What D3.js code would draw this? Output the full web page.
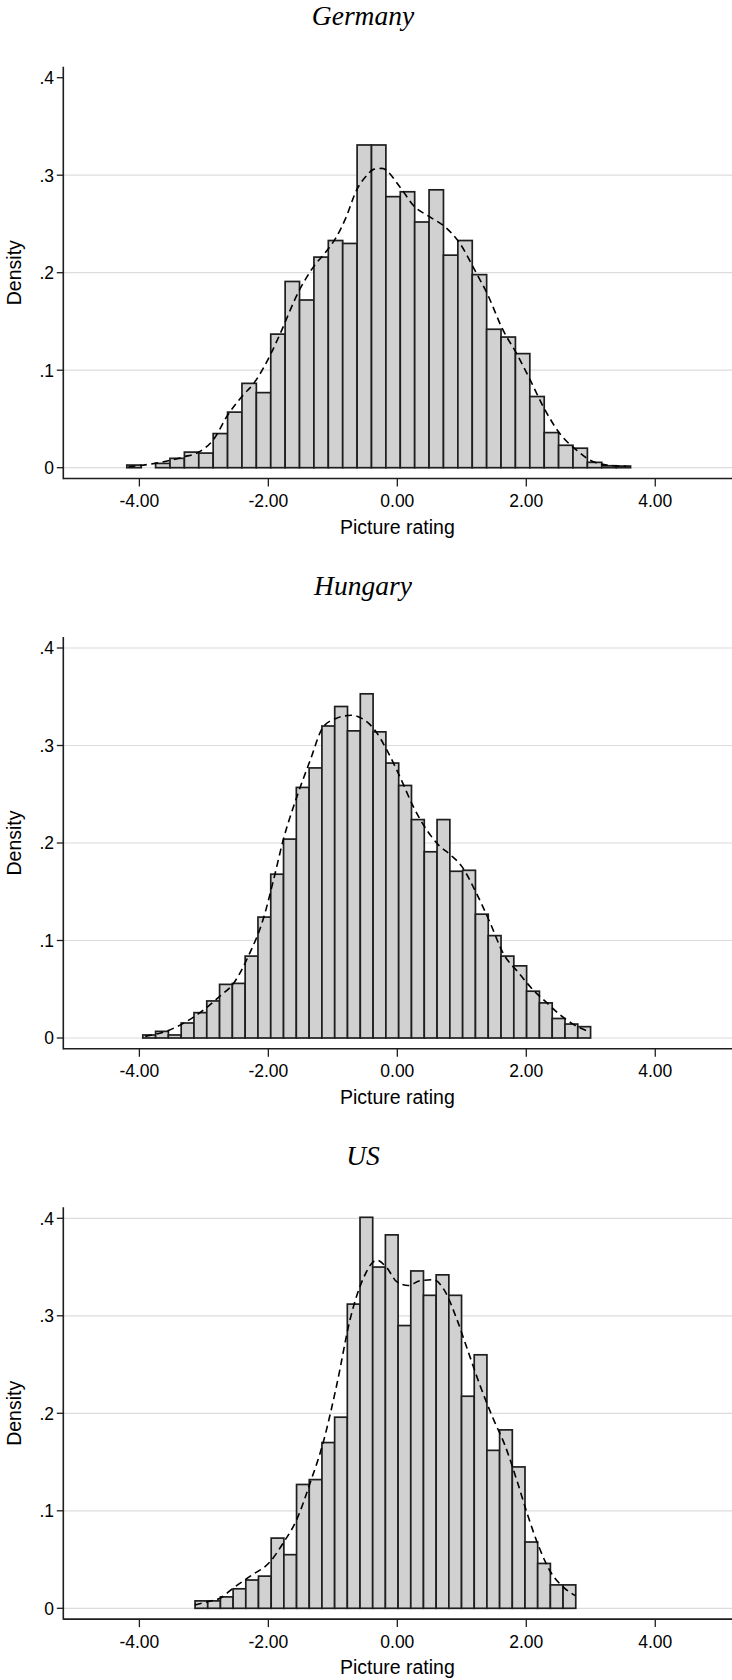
<!DOCTYPE html>
<html><head><meta charset="utf-8">
<script src="https://cdn.jsdelivr.net/npm/d3@7"></script>
<style>body{margin:0;background:#fff}svg{display:block}</style>
</head><body><svg id="c" width="732" height="1680"></svg>
<script>
// ---- data ----
const countries = ["Germany", "Hungary", "US"];
const binStart = [-4.195, -3.947, -3.137];
const binWidth = [0.2232, 0.1984, 0.1968];

const germanyDensity = [0.0027, 0, 0.0044, 0.0096, 0.016, 0.015, 0.035, 0.057, 0.0865, 0.077,
  0.137, 0.191, 0.172, 0.216, 0.233, 0.230, 0.331, 0.331, 0.278, 0.283,
  0.252, 0.285, 0.218, 0.233, 0.198, 0.142, 0.134, 0.117, 0.073, 0.036,
  0.023, 0.020, 0.0055, 0.002, 0.0017];
const hungaryDensity = [0.0031, 0.0068, 0.0031, 0.0154, 0.026, 0.038, 0.055, 0.056, 0.084, 0.124,
  0.168, 0.204, 0.257, 0.277, 0.320, 0.340, 0.315, 0.353, 0.314, 0.282,
  0.259, 0.224, 0.191, 0.224, 0.171, 0.172, 0.127, 0.105, 0.084, 0.074,
  0.048, 0.036, 0.020, 0.0143, 0.0116];
const usDensity = [0.0076, 0.0076, 0.0117, 0.020, 0.029, 0.033, 0.072, 0.055, 0.127, 0.132,
  0.170, 0.196, 0.312, 0.401, 0.350, 0.383, 0.290, 0.346, 0.321, 0.342,
  0.321, 0.2175, 0.260, 0.162, 0.183, 0.145, 0.068, 0.046, 0.024, 0.024];

const germanyKdeX = [-4.17, -3.76, -3.32, -3.08, -2.85, -2.63, -2.41, -2.21, -1.96, -1.82,
  -1.52, -1.30, -1.10, -0.95, -0.80, -0.63, -0.47, -0.37, -0.24, 0.04,
  0.25, 0.51, 0.74, 0.97, 1.23, 1.39, 1.64, 1.85, 2.06, 2.26,
  2.52, 2.78, 3.04, 3.35, 3.55];
const germanyKdeY = [0.001, 0.0044, 0.011, 0.016, 0.029, 0.054, 0.073, 0.088, 0.117, 0.137,
  0.182, 0.206, 0.222, 0.236, 0.256, 0.285, 0.300, 0.306, 0.307, 0.288,
  0.269, 0.257, 0.247, 0.230, 0.199, 0.179, 0.141, 0.117, 0.090, 0.063,
  0.035, 0.018, 0.006, 0.002, 0.0015];

const hungaryKdeX = [-3.91, -3.55, -3.32, -3.06, -2.75, -2.54, -2.31, -2.07, -1.92, -1.77,
  -1.56, -1.35, -1.15, -0.94, -0.71, -0.53, -0.35, -0.16, 0.04, 0.25,
  0.46, 0.64, 0.82, 1.00, 1.20, 1.44, 1.64, 1.88, 2.11, 2.32,
  2.52, 2.73, 2.99];
const hungaryKdeY = [0.0017, 0.0078, 0.015, 0.026, 0.043, 0.056, 0.084, 0.124, 0.162, 0.203,
  0.247, 0.285, 0.319, 0.328, 0.331, 0.327, 0.316, 0.295, 0.268, 0.237,
  0.213, 0.198, 0.188, 0.176, 0.152, 0.118, 0.087, 0.067, 0.049, 0.036,
  0.024, 0.014, 0.006];

const usKdeX = [-3.14, -2.93, -2.75, -2.54, -2.28, -1.97, -1.77, -1.56, -1.35, -1.15,
  -0.94, -0.73, -0.53, -0.32, -0.16, -0.01, 0.17, 0.35, 0.56, 0.74,
  0.92, 1.10, 1.28, 1.49, 1.67, 1.85, 2.01, 2.19, 2.37, 2.57, 2.76];
const usKdeY = [0.0034, 0.0069, 0.0103, 0.021, 0.033, 0.048, 0.067, 0.091, 0.129, 0.170,
  0.229, 0.297, 0.338, 0.357, 0.349, 0.335, 0.331, 0.336, 0.337, 0.325,
  0.297, 0.263, 0.229, 0.194, 0.167, 0.132, 0.098, 0.064, 0.038, 0.022, 0.013];

const xTicks = [-4, -2, 0, 2, 4];
const xTickLabels = ["-4.00", "-2.00", "0.00", "2.00", "4.00"];
const yTicks = [0, 0.1, 0.2, 0.3, 0.4];
const yTickLabels = ["0", ".1", ".2", ".3", ".4"];
const gridTicks = [[0, 0.1, 0.2, 0.3], [0, 0.1, 0.2, 0.3, 0.4], [0, 0.1, 0.2, 0.3, 0.4]];
const xTitle = "Picture rating";
const yTitle = "Density";

// ---- drawing ----
const densities = [germanyDensity, hungaryDensity, usDensity];
const kdeX = [germanyKdeX, hungaryKdeX, usKdeX];
const kdeY = [germanyKdeY, hungaryKdeY, usKdeY];

const svg = d3.select("#c");
const W = 732, panelH = 570.3;
const axisLeft = 63.3, axisY = 478.5, yTop = 66.7;
const x = d3.scaleLinear().domain([-5.18, 5.19]).range([axisLeft, W]);
const y = d3.scaleLinear().domain([0, 0.4]).range([467.7, 77.7]);
const sans = "'Liberation Sans', Arial, sans-serif";

countries.forEach((name, i) => {
  const g = svg.append("g").attr("transform", `translate(0,${i * panelH})`);

  g.append("text").attr("x", 363).attr("y", 24.5).attr("text-anchor", "middle")
    .attr("font-family", "'Liberation Serif', 'Times New Roman', serif")
    .attr("font-style", "italic").attr("font-size", 27.5).attr("fill", "#000").text(name);

  // gridlines
  g.selectAll("line.grid").data(gridTicks[i]).enter().append("line")
    .attr("x1", axisLeft).attr("x2", W)
    .attr("y1", d => y(d)).attr("y2", d => y(d))
    .attr("stroke", "#dcdcdc").attr("stroke-width", 1.2);

  // bars
  const bins = densities[i].map((v, k) => ({
    x0: binStart[i] + k * binWidth[i], x1: binStart[i] + (k + 1) * binWidth[i], v
  })).filter(d => d.v > 0);
  g.selectAll("rect.bar").data(bins).enter().append("rect")
    .attr("x", d => x(d.x0)).attr("width", d => x(d.x1) - x(d.x0))
    .attr("y", d => y(d.v)).attr("height", d => y(0) - y(d.v))
    .attr("fill", "#d1d1d1").attr("stroke", "#1e1e1e").attr("stroke-width", 1.7);

  // kde
  const pts = kdeX[i].map((v, k) => [v, kdeY[i][k]]);
  g.append("path").datum(pts)
    .attr("d", d3.line().x(d => x(d[0])).y(d => y(d[1])).curve(d3.curveMonotoneX))
    .attr("fill", "none").attr("stroke", "#000").attr("stroke-width", 1.6)
    .attr("stroke-dasharray", "7,4.5");

  // y axis
  g.append("line").attr("x1", axisLeft).attr("x2", axisLeft).attr("y1", yTop).attr("y2", axisY + 0.75)
    .attr("stroke", "#1e1e1e").attr("stroke-width", 1.6);
  g.selectAll("line.yt").data(yTicks).enter().append("line")
    .attr("x1", axisLeft - 6.5).attr("x2", axisLeft)
    .attr("y1", d => y(d)).attr("y2", d => y(d))
    .attr("stroke", "#1e1e1e").attr("stroke-width", 1.3);
  g.selectAll("text.yl").data(yTicks).enter().append("text")
    .attr("x", 54).attr("y", d => y(d)).attr("dy", "0.36em").attr("text-anchor", "end")
    .attr("font-family", sans).attr("font-size", 17.5)
    .attr("fill", "#000").text((d, k) => yTickLabels[k]);
  g.append("text").attr("transform", `translate(20.5,${y(0.2)}) rotate(-90)`)
    .attr("text-anchor", "middle")
    .attr("font-family", sans).attr("font-size", 19.5)
    .attr("fill", "#000").text(yTitle);

  // x axis
  g.append("line").attr("x1", axisLeft).attr("x2", W).attr("y1", axisY).attr("y2", axisY)
    .attr("stroke", "#1e1e1e").attr("stroke-width", 1.6);
  g.selectAll("line.xt").data(xTicks).enter().append("line")
    .attr("x1", d => x(d)).attr("x2", d => x(d)).attr("y1", axisY).attr("y2", axisY + 8)
    .attr("stroke", "#1e1e1e").attr("stroke-width", 1.3);
  g.selectAll("text.xl").data(xTicks).enter().append("text")
    .attr("x", d => x(d)).attr("y", 507).attr("text-anchor", "middle")
    .attr("font-family", sans).attr("font-size", 17.5)
    .attr("fill", "#000").text((d, k) => xTickLabels[k]);
  g.append("text").attr("x", x(0)).attr("y", 533.5).attr("text-anchor", "middle")
    .attr("font-family", sans).attr("font-size", 19.5)
    .attr("fill", "#000").text(xTitle);
});
</script>
</body></html>
